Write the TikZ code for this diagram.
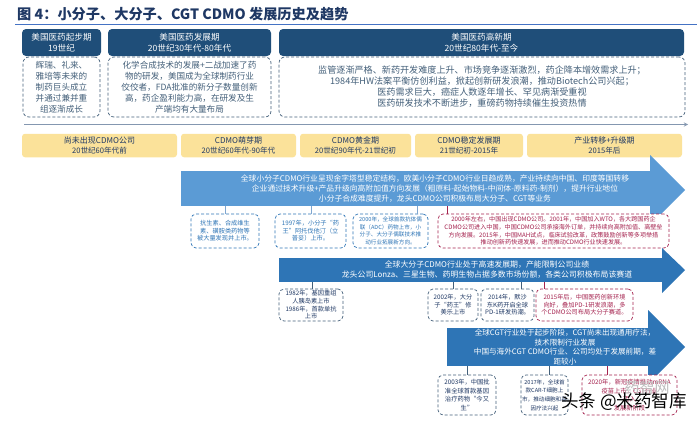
\documentclass[tikz,border=0pt]{standalone}
\usepackage{fontspec}
\setmainfont{Noto Sans CJK SC}
\usetikzlibrary{calc}
\definecolor{navy}{HTML}{1F4E79}
\definecolor{inkblue}{HTML}{1F3864}
\definecolor{slate}{HTML}{44607A}
\definecolor{softblue}{HTML}{7FA6D0}
\definecolor{softink}{HTML}{2E75B6}
\definecolor{wine}{HTML}{A5234F}
\definecolor{sand}{HTML}{FBE29A}
\definecolor{bigone}{HTML}{5B9BD5}
\definecolor{bigtwo}{HTML}{2E75B6}
\definecolor{rulecol}{HTML}{4472C4}
\definecolor{linecol}{HTML}{8497B0}
% full-width punctuation
\newcommand\dou{\char"FF0C\relax}
\newcommand\fen{\char"FF1B\relax}
\newcommand\mao{\char"FF1A\relax}
\newcommand\zuo{\char"FF08\relax}
\newcommand\you{\char"FF09\relax}
\tikzset{
  headbox/.style={fill=navy,rounded corners=4,text=white,align=center,font=\fontsize{8.6}{11}\selectfont,inner sep=0},
  notebox/.style={draw=slate,densely dashed,line width=.7,fill=white,rounded corners=6,text=slate,align=center,font=\fontsize{8.6}{10.9}\selectfont,inner sep=0},
  eraone/.style={fill=sand,rounded corners=3,text=inkblue,align=center,font=\fontsize{8}{10.4}\selectfont,inner sep=0},
  smallbox/.style={draw=#1,densely dashed,line width=.7,fill=white,rounded corners=5,text=#1,align=center,font=\fontsize{6.2}{7.6}\selectfont,inner sep=0},
  bigtext/.style={text=white,align=center,font=\fontsize{7.8}{10.2}\selectfont},
  link/.style={draw=#1,line width=.9},
}
\begin{document}
\begin{tikzpicture}[x=1pt,y=-1pt,>=stealth]
    \useasboundingbox (0,0) rectangle (700,421);
    
    \node (title) [anchor=west,text=inkblue,font=\fontsize{14.2}{15}\bfseries\selectfont,inner sep=0] at (17,14.5){图 4\mao 小分子、大分子、CGT CDMO 发展历史及趋势};
    \coordinate (ruleleft) at (15,24.5); \coordinate (ruleright) at (697,24.5);
    \draw [rulecol,line width=.9](ruleleft) -- (ruleright);
    
    % top row
    \node (heada) [headbox,minimum width=79,minimum height=27] at (61.5,42.5){美国医药起步期\\19世纪};
    \node (headb) [headbox,minimum width=163,minimum height=27] at (189.5,42.5){美国医药发展期\\20世纪30年代-80年代};
    \node (headc) [headbox,minimum width=405,minimum height=27] at (481.5,42.5){美国医药高新期\\20世纪80年代-至今};
    
    \node (notea) [notebox,minimum width=77,minimum height=60] at (61.5,87){辉瑞、礼来、\\雅培等未来的\\制药巨头成立\\并通过兼并重\\组逐渐成长};
    \node (noteb) [notebox,minimum width=163,minimum height=60] at (189.5,87){化学合成技术的发展+二战加速了药\\物的研发\dou 美国成为全球制药行业\\佼佼者\dou FDA批准的新分子数量创新\\高\dou 药企盈利能力高\dou 在研发及生\\产端均有大量布局};
    \node (notec) [notebox,font=\fontsize{9.1}{11}\selectfont,minimum width=406,minimum height=60] at (482,87){监管逐渐严格、新药开发难度上升、市场竞争逐渐激烈\dou 药企降本增效需求上升\fen\\1984年HW法案平衡仿创利益\dou 掀起创新研发浪潮\dou 推动Biotech公司兴起\fen\\医药需求巨大\dou 癌症人数逐年增长、罕见病渐受重视\\医药研发技术不断进步\dou 重磅药物持续催生投资热情};
    
    \coordinate (timeleft) at (24,124.5); \coordinate (timeright) at (688,124.5);
    \draw [->,linecol,line width=.9](timeleft) -- (timeright);
    
    % yellow row
    \node (eraa) [eraone,minimum width=155,minimum height=23.5] at (99.5,145.5){尚未出现CDMO公司\\{\fontsize{7.6}{10}\selectfont 20世纪60年代前}};
    \node (erab) [eraone,minimum width=115,minimum height=23.5] at (238.5,145.5){CDMO萌芽期\\{\fontsize{7.6}{10}\selectfont 20世纪60年代-90年代}};
    \node (erac) [eraone,minimum width=111,minimum height=23.5] at (355.5,145.5){CDMO黄金期\\{\fontsize{7.6}{10}\selectfont 20世纪90年代-21世纪初}};
    \node (erad) [eraone,minimum width=108,minimum height=23.5] at (469,145.5){CDMO稳定发展期\\{\fontsize{7.6}{10}\selectfont 21世纪初-2015年}};
    \node (erae) [eraone,minimum width=155,minimum height=23.5] at (604.5,145.5){产业转移+升级期\\{\fontsize{7.6}{10}\selectfont 2015年后}};
    
    % arrow 1
    \node (arrowa) [fill=bigone,minimum width=469,minimum height=35,inner sep=0] at (415.5,188.5){};
    \fill [bigone](650,155) -- (685,190) -- (650,225) -- cycle;
    \node (texta) [bigtext,anchor=center] at (435,188.5){全球小分子CDMO行业呈现金字塔型稳定结构\dou 欧美小分子CDMO行业日趋成熟\dou 产业持续向中国、印度等国转移\\企业通过技术升级+产品升级向高附加值方向发展\zuo 粗原料-起始物料-中间体-原料药-制剂\you\dou 提升行业地位\\小分子合成难度提升\dou 龙头CDMO公司积极布局大分子、CGT等业务};
    
    \node (smalla) [smallbox=softink,minimum width=68,minimum height=34] at (225,231){抗生素、合成维生\\素、磺胺类药物等\\被大量发现并上市。};
    \node (smallb) [smallbox=softink,minimum width=71,minimum height=34] at (310.5,231){1997年\dou 小分子“药\\王”阿托伐他汀\zuo 立\\普妥\you 上市。};
    \node (smallc) [smallbox=softink,font=\fontsize{5.6}{7.6}\selectfont,minimum width=75,minimum height=34] at (390.5,231){2000年\dou 全球首款抗体偶\\联\zuo ADC\you 药物上市\dou 小\\分子、大分子偶联技术推\\动行业拓展新方向。};
    \node (smalld) [smallbox=wine,font=\fontsize{6.1}{7.6}\selectfont,minimum width=231,minimum height=34] at (553.5,231){2000年左右\dou 中国出现CDMO公司。2001年\dou 中国加入WTO\dou 各大跨国药企\\CDMO公司进入中国\dou 中国CDMO公司承接海外订单\dou 并持续向高附加值、高壁垒\\方向发展。2015年\dou 中国MAH试点\dou 临床试验改革\dou 政策鼓励创新等多项举措\\推动创新药快速发展\dou 进而推动CDMO行业快速发展。};
    
    \foreach \n/\x/\c in {smalla/225/softblue,smallb/311/softblue,smallc/417/softblue,smalld/447/wine}
    {
      \draw [link=\c](\x,0 |- arrowa.south) -- (\x,0 |- \n.north);
    }
    
    % arrow 2
    \node (arrowb) [fill=bigtwo,minimum width=383,minimum height=24,inner sep=0] at (470.5,270){};
    \fill [bigtwo](662,248) -- (685,270) -- (662,293) -- cycle;
    \node (textb) [bigtext,font=\fontsize{7.9}{10}\selectfont,anchor=center] at (487,270){全球大分子CDMO行业处于高速发展期\dou 产能限制公司业绩\\龙头公司Lonza、三星生物、药明生物占据多数市场份额\dou 各类公司积极布局该赛道};
    
    \node (smalle) [smallbox=slate,text=inkblue,minimum width=64,minimum height=32] at (311,305){1982年\dou 基因重组\\人胰岛素上市\\1986年\dou 首款单抗\\上市};
    \node (smallf) [smallbox=slate,text=inkblue,minimum width=50,minimum height=32] at (453,305){2002年\dou 大分\\子“药王”修\\美乐上市};
    \node (smallg) [smallbox=slate,text=inkblue,minimum width=53,minimum height=32] at (507.5,305){2014年\dou 默沙\\东K药开启全球\\PD-1研发热潮。};
    \node (smallh) [smallbox=wine,minimum width=97,minimum height=32] at (584.5,305){2015年后\dou 中国医药创新环境\\向好\dou 叠加PD-1研发浪潮\dou 多\\个CDMO公司布局大分子赛道。};
    
    \foreach \n/\x/\c in {smalle/312/slate,smallf/453/slate,smallg/521/slate,smallh/544/wine}
    {
      \draw [link=\c](\x,0 |- arrowb.south) -- (\x,0 |- \n.north);
    }
    
    % arrow 3
    \node (arrowc) [fill=bigtwo,minimum width=201,minimum height=38,inner sep=0] at (547.5,347){};
    \fill [bigtwo](648,310) -- (685,347) -- (648,384) -- cycle;
    \node (textc) [bigtext,anchor=center,font=\fontsize{7.6}{9.6}\selectfont] at (565,347){全球CGT行业处于起步阶段\dou CGT尚未出现通用疗法\dou\\技术限制行业发展\\中国与海外CGT CDMO行业、公司均处于发展前期\dou 差\\距较小};
    
    \node (smalli) [smallbox=slate,text=inkblue,font=\fontsize{6.3}{8.6}\selectfont,minimum width=58,minimum height=40] at (467,395){2003年\dou 中国批\\准全球首款基因\\治疗药物“今又\\生”};
    \node (smallj) [smallbox=slate,text=inkblue,font=\fontsize{5.6}{8.6}\selectfont,minimum width=47,minimum height=40] at (544.5,395){2017年\dou 全球首\\款CAR-T细胞上\\市\dou 推动细胞和基\\因疗法兴起};
    \node (smallk) [smallbox=wine,font=\fontsize{6.3}{8.6}\selectfont,minimum width=95,minimum height=40] at (629.5,395){2020年\dou 新冠疫情推动mRNA\\疫苗上市\dou CGT行业\\迈入\\发展新阶段};
    
    \foreach \n/\x/\c in {smalli/467/slate,smallj/549/slate,smallk/607/wine}
    {
      \draw [link=\c](\x,0 |- arrowc.south) -- (\x,0 |- \n.north);
    }
    
    % watermark
    \node (markgrey) [text=black!25,font=\fontsize{15}{15}\selectfont,inner sep=0] at (647,388){药智网};
    \node (markmain) [text=black,font=\fontsize{17.5}{18}\selectfont,inner sep=0] at (624,402){头条 @米药智库};
    
    \end{tikzpicture}
\end{document}
